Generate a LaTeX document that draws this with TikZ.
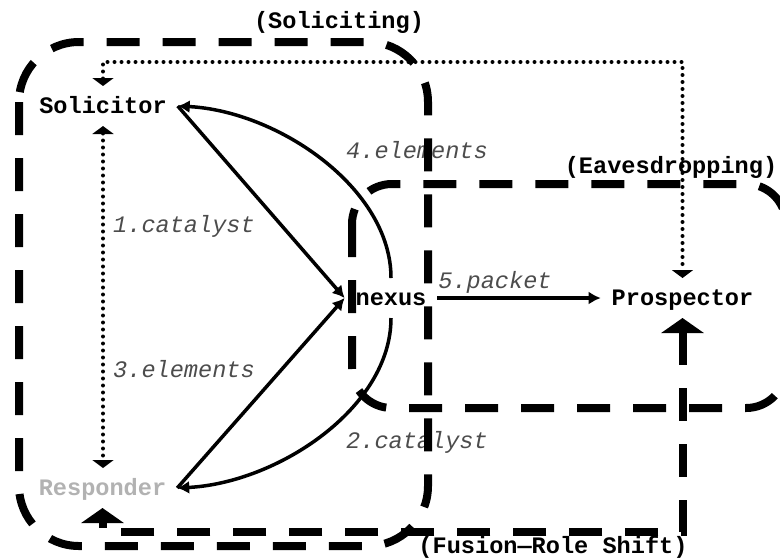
\documentclass[tikz,border=0pt]{standalone}
\usepackage{fontspec}
\setmonofont{Liberation Mono}
\usetikzlibrary{arrows.meta}
\begin{document}
\begin{tikzpicture}[x=0.5pt,y=-0.5pt,
  actor/.style={font=\ttfamily\bfseries\fontsize{11.8}{14}\selectfont, anchor=base,
    inner xsep=5.5pt, inner ysep=5.5pt, text height=8pt, text depth=1pt, outer sep=0pt},
  flow/.style={line width=1.75pt, -{Latex[length=6pt,width=6.5pt]}},
  flowlabel/.style={font=\ttfamily\itshape\fontsize{11.8}{14}\selectfont, text=black!70,
    anchor=base, inner sep=0pt},
  grouptitle/.style={font=\ttfamily\bfseries\fontsize{11.8}{14}\selectfont, anchor=base, inner sep=0pt},
  dotlink/.style={line width=2pt, line cap=round, dash pattern=on 0pt off 3.5pt,
    {Triangle[length=4pt,width=10.5pt]}-{Triangle[length=4pt,width=10.5pt]}},
  groupline/.style={line width=4pt, dash pattern=on 16.5pt off 11.5pt},
  shiftlink/.style={groupline, {Triangle[length=7.5pt,width=21pt]}-{Triangle[length=7.5pt,width=21pt]}},
]
\useasboundingbox (0,0) rectangle (780,558);
\clip (0,0) rectangle (780,558);

% actors
\node[actor] (sol) at (103,113) {Solicitor};
\node[actor, text=black!30] (res) at (102.5,495) {Responder};
\node[actor] (nex) at (391,305) {nexus};
\node[actor] (pro) at (682.5,305) {Prospector};

% routing points for the long links
\coordinate (top) at (400,62);
\coordinate (bot) at (400,532);

% message flows
\draw[flow] (sol.east) -- (nex.west);
\draw[flow] (res.east) -- (nex.west);
\draw[flow] (nex.north) .. controls +(0,-90) and +(100,5) .. (sol.east);
\draw[flow] (nex.south) .. controls +(0,90) and +(100,-5) .. (res.east);
\draw[flow] (nex.east) -- (pro.west);

\node[flowlabel] (l1) at (184,232) {1.catalyst};
\node[flowlabel] (l3) at (184,377) {3.elements};
\node[flowlabel] (l4) at (417,158) {4.elements};
\node[flowlabel] (l2) at (417,448) {2.catalyst};
\node[flowlabel] (l5) at (495,288) {5.packet};

% dotted side channels
\draw[dotlink] (sol.south) -- (sol.south |- res.north);
\draw[dotlink] (sol.north) |- (top) -| (pro.north);

% phase groups
\draw[groupline, rounded corners=30pt] (19,42) rectangle (428,546);
\draw[groupline, rounded corners=20pt] (352,184) rectangle (786,408);
\draw[shiftlink] (pro.south) |- (bot) -| (res.south);

\node[grouptitle] (g1) at (339,28) {(Soliciting)};
\node[grouptitle] (g2) at (671,173) {(Eavesdropping)};
\node[grouptitle] (g3) at (553,553) {(Fusion—Role Shift)};
\end{tikzpicture}
\end{document}
